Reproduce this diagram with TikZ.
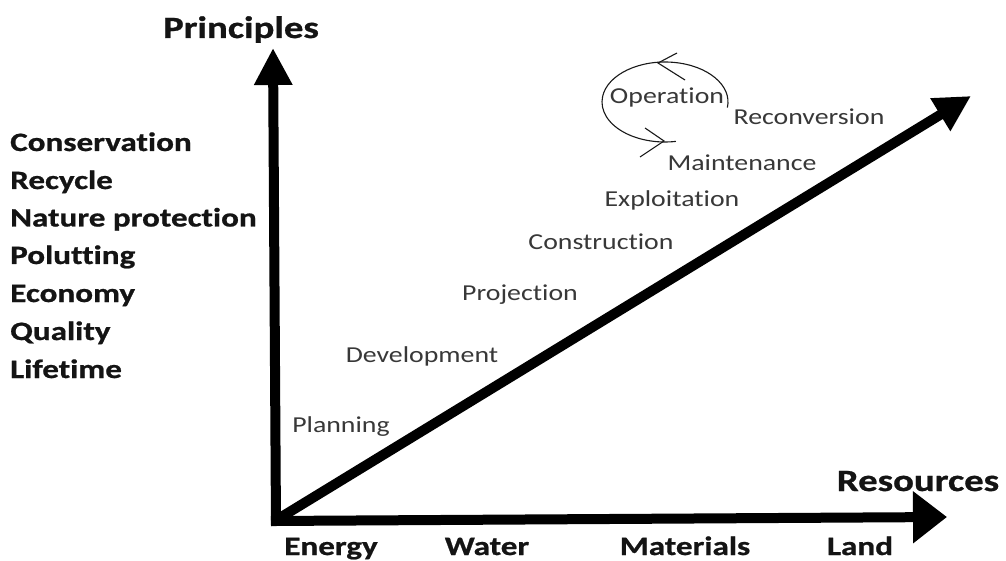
\documentclass[tikz,border=0pt]{standalone}
\usepackage{fontspec}
\usetikzlibrary{arrows.meta}
\newfontfamily\boldlab{Carlito}[FakeStretch=1.25, Ligatures={NoCommon,NoRare,NoContextual}, RawFeature={-liga;-clig;-dlig}, BoldFeatures={FakeBold=0.8}]
\newfontfamily\stagelab{Carlito}[FakeStretch=1.22, Ligatures={NoCommon,NoRare,NoContextual}, RawFeature={-liga;-clig;-dlig}]
\begin{document}
\begin{tikzpicture}[x=1pt,y=-1pt,
  axis/.style={line width=10pt, draw=black},
  listlab/.style={font=\boldlab\bfseries\fontsize{26.5}{30}\selectfont, text=black!92, inner sep=0pt, anchor=base west},
  axlab/.style={font=\boldlab\bfseries\fontsize{26.5}{30}\selectfont, text=black!92, inner sep=0pt, anchor=base},
  biglab/.style={font=\boldlab\bfseries\fontsize{31}{36}\selectfont, text=black!92, inner sep=0pt, anchor=base},
  stage/.style={font=\stagelab\fontsize{22.8}{26}\selectfont, text=black!78, inner sep=0pt, anchor=base},
  loop/.style={line width=1.1pt, draw=black!90}
]
\fill[white] (0,0) rectangle (1006,561);
\useasboundingbox (0,0) rectangle (1006,561);

% axes
\coordinate (O) at (276,521);
\coordinate (Ov) at (276,526);
\coordinate (Oh) at (271,521);
\coordinate (Od) at (278,519);
\coordinate (ytip) at (273,48);
\coordinate (xtip) at (947,517);
\coordinate (dtip) at (971,96);
\draw[axis, -{Triangle[length=37pt,width=36pt]}] (Ov) -- (ytip);
\draw[axis, -{Triangle[length=34pt,width=50pt]}] (Oh) -- (xtip);
\draw[axis, -{Triangle[length=36pt,width=36pt]}] (Od) -- (dtip);

% axis titles
\node[biglab] (principles) at (241,38) {Principles};
\node[biglab] (resources) at (918,491) {Resources};

% resources
\node[axlab] (energy) at (331,555) {Energy};
\node[axlab] (water) at (487,555) {Water};
\node[axlab] (materials) at (685,555) {Materials};
\node[axlab] (land) at (860,555) {Land};

% principles list
\node[listlab] (p1) at (10,151) {Conservation};
\node[listlab] (p2) at (10,189) {Recycle};
\node[listlab] (p3) at (10,226.5) {Nature protection};
\node[listlab] (p4) at (10,264) {Polutting};
\node[listlab] (p5) at (10,302) {Economy};
\node[listlab] (p6) at (10,340) {Quality};
\node[listlab] (p7) at (10,378) {Lifetime};

% stages
\node[stage] (planning) at (341,432) {Planning};
\node[stage] (development) at (422,362) {Development};
\node[stage] (projection) at (520,300) {Projection};
\node[stage] (construction) at (601,250) {Construction};
\node[stage] (exploitation) at (672,207) {Exploitation};
\node[stage] (maintenance) at (742,171) {Maintenance};
\node[stage] (reconversion) at (809,125) {Reconversion};
\node[stage] (operation) at (667,104) {Operation};

% operation loop
\coordinate (C) at (665,102);
\draw[loop] ([shift={(8:63 and 40)}]C) arc[start angle=8, end angle=-280, x radius=63, y radius=40];
\coordinate (t1) at (677,53);
\coordinate (t0) at (658,63);
\coordinate (t2) at (685,80);
\coordinate (b1) at (645,128);
\coordinate (b0) at (664,141);
\coordinate (b2) at (640,157);
\draw[loop] (t1) -- (t0) -- (t2);
\draw[loop] (b1) -- (b0) -- (b2);
\end{tikzpicture}
\end{document}
